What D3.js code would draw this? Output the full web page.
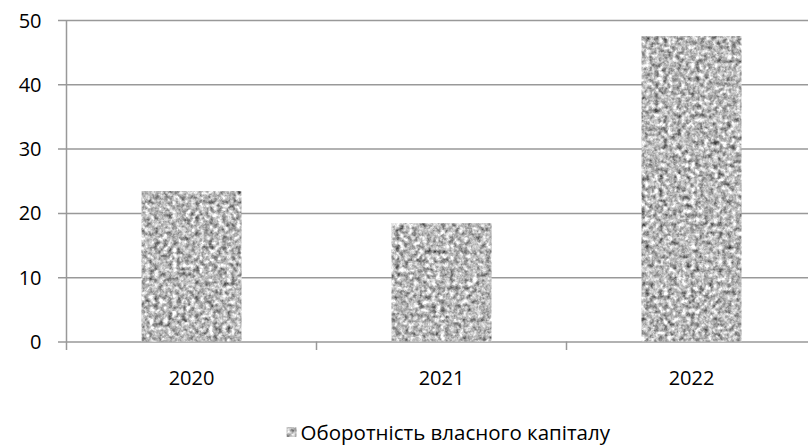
<!DOCTYPE html>
<html>
<head>
<meta charset="utf-8">
<script src="https://cdn.jsdelivr.net/npm/d3@7"></script>
<style>
  html, body { margin: 0; padding: 0; background: #fff; }
  svg { display: block; font-family: "Open Sans", "Noto Sans", sans-serif; }
</style>
</head>
<body>
<svg id="chart" width="808" height="448"></svg>
<script>
// Chart data
const categories = ["2020", "2021", "2022"];
const values = [23.4, 18.4, 47.5];
const yTicks = [0, 10, 20, 30, 40, 50];
const seriesName = "Оборотність власного капіталу";

const svg = d3.select("#chart");
const W = 808, H = 448;

// Plot area (extends slightly past the right edge)
const plotLeft = 66.5, plotRight = 816.5, plotTop = 20, plotBottom = 341.5;

const x = d3.scaleBand()
  .domain(categories)
  .range([plotLeft, plotRight])
  .paddingInner(0.6)
  .paddingOuter(0.3);

const y = d3.scaleLinear().domain([0, 50]).range([plotBottom, plotTop]);

// Granite-like texture fill
const defs = svg.append("defs");
const f = defs.append("filter")
  .attr("id", "granite")
  .attr("x", 0).attr("y", 0).attr("width", 1).attr("height", 1)
  .attr("color-interpolation-filters", "sRGB");
f.append("feTurbulence")
  .attr("type", "fractalNoise")
  .attr("baseFrequency", 0.22)
  .attr("numOctaves", 3)
  .attr("seed", 7)
  .attr("result", "noise");
f.append("feColorMatrix")
  .attr("in", "noise")
  .attr("type", "matrix")
  .attr("values",
    "0.8 0.8 0 0 -0.08 " +
    "0.8 0.8 0 0 -0.08 " +
    "0.8 0.8 0 0 -0.08 " +
    "0 0 0 0 1")
  .attr("result", "gray");
f.append("feGaussianBlur")
  .attr("in", "gray")
  .attr("stdDeviation", 0.6)
  .attr("result", "soft");
f.append("feComposite")
  .attr("in", "soft")
  .attr("in2", "SourceGraphic")
  .attr("operator", "in");

const gridColor = "#999999";

// Horizontal gridlines with left tick marks
const yAxis = d3.axisLeft(y)
  .tickValues(yTicks)
  .tickSize(-(W - plotLeft + 10))
  .tickFormat(d3.format("d"))
  .tickPadding(0);

const gy = svg.append("g")
  .attr("transform", `translate(${plotLeft},0)`)
  .call(yAxis);
gy.select(".domain").remove();
gy.selectAll(".tick line")
  .attr("x1", -8.5)
  .attr("stroke", gridColor)
  .attr("stroke-width", 1.5);
gy.selectAll(".tick text")
  .attr("x", -25)
  .attr("dy", "0.35em")
  .attr("fill", "#000")
  .style("font-size", "20px")
  .style("font-family", "'Open Sans', sans-serif");

// Bars
svg.append("g")
  .selectAll("rect")
  .data(categories.map((c, i) => ({ c, v: values[i] })))
  .join("rect")
  .attr("x", d => x(d.c))
  .attr("y", d => y(d.v))
  .attr("width", x.bandwidth())
  .attr("height", d => y(0) - y(d.v))
  .attr("fill", "#000")
  .attr("filter", "url(#granite)");

// Vertical axis line
svg.append("line")
  .attr("x1", plotLeft).attr("x2", plotLeft)
  .attr("y1", plotTop).attr("y2", plotBottom + 8.5)
  .attr("stroke", gridColor)
  .attr("stroke-width", 1.5);

// Category axis: labels
const xAxis = d3.axisBottom(x).tickSize(0).tickPadding(0);
const gx = svg.append("g")
  .attr("transform", `translate(0,${plotBottom})`)
  .call(xAxis);
gx.select(".domain").remove();
gx.selectAll(".tick text")
  .attr("y", 43)
  .attr("dy", 0)
  .attr("fill", "#000")
  .style("font-size", "20px")
  .style("font-family", "'Open Sans', sans-serif");

// Tick marks on the category boundaries
const step = x.step();
svg.append("g")
  .selectAll("line")
  .data(categories)
  .join("line")
  .attr("x1", (d, i) => plotLeft + step * (i + 1))
  .attr("x2", (d, i) => plotLeft + step * (i + 1))
  .attr("y1", plotBottom)
  .attr("y2", plotBottom + 8.5)
  .attr("stroke", gridColor)
  .attr("stroke-width", 1.5);

// Legend
const legend = svg.append("g");
const lt = legend.append("text")
  .attr("y", 440)
  .attr("fill", "#000")
  .style("font-size", "20.5px")
  .style("font-family", "'Open Sans', sans-serif")
  .text(seriesName);
const tw = lt.node().getComputedTextLength();
const textX = 610 - tw;
lt.attr("x", textX);
legend.append("rect")
  .attr("x", textX - 14)
  .attr("y", 427)
  .attr("width", 10)
  .attr("height", 10)
  .attr("fill", "#000")
  .attr("filter", "url(#granite)");
</script>
</body>
</html>
